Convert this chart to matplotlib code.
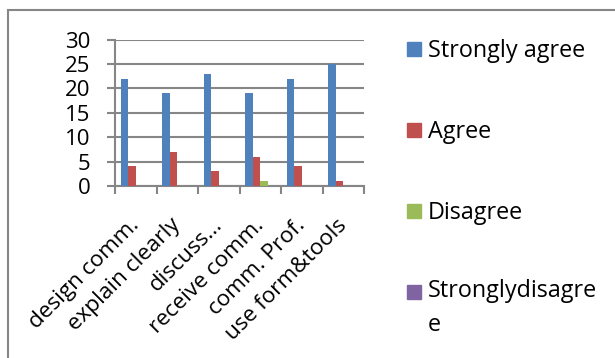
import numpy as np
import matplotlib
matplotlib.use("Agg")
import matplotlib.pyplot as plt
from matplotlib.patches import Rectangle
from matplotlib.transforms import offset_copy

# Umfragedaten
#=============
kategorien = ["design comm.", "explain clearly", "discuss...", "receive comm.",
              "comm. Prof.", "use form&tools"]
stark_zust = [22, 19, 23, 19, 22, 25]
zust = [4, 7, 3, 6, 4, 1]
abgel = [0, 0, 0, 1, 0, 0]
stark_abgel = [0, 0, 0, 0, 0, 0]

serien = [stark_zust, zust, abgel, stark_abgel]
namen = ["Strongly agree", "Agree", "Disagree", "Stronglydisagre\ne"]
farben = ["#4F81BD", "#C0504D", "#9BBB59", "#8064A2"]

plt.rcParams["font.family"] = ["Open Sans", "DejaVu Sans"]
grau = "#868686"

fig = plt.figure(figsize=(6.15, 3.58), dpi=100)
ax = fig.add_axes([115/615, 172/358, 249/615, 146.5/358])

# Balken gruppiert zeichnen
#--------------------------
x = np.arange(len(kategorien))
bw = 1 / 5.5
for i, (werte, name, farbe) in enumerate(zip(serien, namen, farben)):
    ax.bar(x - 1.5*bw + i*bw, werte, width=bw, color=farbe, label=name, zorder=3)

ax.set_xlim(-0.5, len(kategorien) - 0.5)
ax.set_ylim(0, 30)
ax.set_yticks(range(0, 31, 5))
ax.grid(axis="y", color=grau, lw=1.5, zorder=0)

# Teilstriche an den Kategoriegrenzen
ax.set_xticks(np.arange(len(kategorien) + 1) - 0.5)
ax.set_xticklabels([])
ax.tick_params(axis="x", length=6, width=1.5, color=grau)
ax.tick_params(axis="y", length=5.8, width=1.5, color=grau, labelsize=16, pad=12)

# Kategorienamen schräg unter der Achse
trans = offset_copy(ax.get_xaxis_transform(), fig=fig, x=4, y=-40, units="dots")
for xi, lab in zip(x, kategorien):
    ax.text(xi, 0, lab, transform=trans, rotation=45, rotation_mode="anchor",
            ha="right", va="baseline", fontsize=16.2)

for s in ["top", "right"]:
    ax.spines[s].set_visible(False)
for s in ["left", "bottom"]:
    ax.spines[s].set_color(grau)
    ax.spines[s].set_linewidth(1.5)

# Legende (Kästchen + Text; "baseline" gilt für die letzte Zeile)
#----------------------------------------------------------------
leg_y = [49, 130, 211, 292]
zeilenabst = 31
for yy, name, farbe in zip(leg_y, namen, farben):
    fig.add_artist(Rectangle((407/615, 1 - (yy + 7)/358), 14/615, 14/358,
                             transform=fig.transFigure, color=farbe))
    y_text = yy + 8 + name.count("\n") * zeilenabst
    fig.text(428/615, 1 - y_text/358, name, fontsize=16.8, va="baseline",
             ha="left", linespacing=1.55)

# Rahmen
fig.add_artist(Rectangle((8/615, -0.1), 1.1, 1 - 9.5/358 + 0.1, transform=fig.transFigure,
                         fill=False, ec=grau, lw=1.5))

plt.savefig("out.png", dpi=100)
